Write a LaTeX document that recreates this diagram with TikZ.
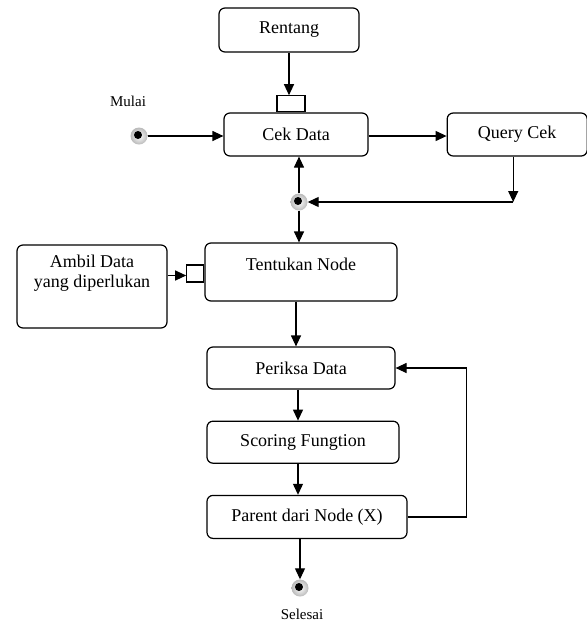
\documentclass[tikz,border=0pt]{standalone}
\usepackage{fontspec}
\setmainfont{Liberation Serif}
\usetikzlibrary{positioning, arrows.meta, calc}

\tikzset{
  act/.style={draw, line width=1.2pt, rounded corners=6pt, minimum height=43pt,
    font=\fontsize{18}{20}\selectfont, align=center},
  portbox/.style={draw, line width=1.2pt, fill=white, inner sep=0pt},
  dot/.style={circle, inner sep=0pt, minimum size=17pt, shading=radial,
    inner color=white, outer color=gray!55,
    path picture={\fill[black] ([xshift=-1pt,yshift=1pt]path picture bounding box.center) circle (4pt);}},
  tag/.style={font=\fontsize{15}{17}\selectfont},
  flow/.style={-{Triangle[length=11pt,width=10pt]}, line width=1.2pt}
}

\begin{document}
\begin{tikzpicture}[x=1pt, y=-1pt]
        \useasboundingbox (0,0) rectangle (587,625);
        % aktivitas
        \node[act, minimum width=140pt, minimum height=44pt] (rentang) at (289,30) {Rentang};
        \node[act, minimum width=144pt] (cek) at (296,134.5) {Cek Data};
        \node[act, minimum width=140pt] (query) [right=78pt of cek] {Query Cek};
        \node[act, minimum width=192pt, minimum height=58pt, text depth=16pt] (tentukan) at (301,272) {Tentukan Node};
        \node[act, minimum width=150pt, minimum height=83pt, text depth=30pt] (ambil) at (92,286.5) {Ambil Data\\yang diperlukan};
        \node[act, minimum width=188pt, minimum height=42pt] (periksa) at (301,368) {Periksa Data};
        \node[act, minimum width=192pt, minimum height=42pt] (scoring) [below=31pt of periksa, xshift=2pt] {Scoring Fungtion};
        \node[act, minimum width=200pt] (parent) [below=31pt of scoring, xshift=4pt] {Parent dari Node (X)};
        % pin masukan
        \node[portbox, minimum width=28pt, minimum height=16pt, anchor=south] (cekpin) at ([xshift=-5pt]cek.north) {};
        \node[portbox, minimum width=17pt, minimum height=17pt, anchor=east] (tentpin) at ([yshift=-1.5pt]tentukan.west) {};
        % titik awal, cabang, akhir
        \node[dot, label={[tag, xshift=-11pt, label distance=17pt]above:Mulai}] (mulai) at (139,136) {};
        \node[dot] (join) at (299,202) {};
        \node[dot, label={[tag, xshift=2pt, label distance=9pt]below:Selesai}] (selesai) at (300,588) {};
        \coordinate (qturn) at ([xshift=-4pt]query.south |- join);
        \coordinate (loopc) at ([xshift=59pt]parent.east);
        % alur
        \draw[flow] (rentang.south -| cekpin.north) ++(-2pt,0) -- ([xshift=-2pt]cekpin.north);
        \draw[flow] (mulai) -- (mulai -| cek.west);
        \draw[flow] (mulai -| cek.east) -- (mulai -| query.west);
        \draw[flow] ([xshift=-4pt]query.south) -- (qturn);
        \draw[flow] (qturn) -- (join);
        \draw[flow] (join) -- (join |- cek.south);
        \draw[flow] (join) -- (join |- tentukan.north);
        \draw[flow] (ambil.east |- tentpin) ++(0,-2pt) -- ([yshift=-2pt]tentpin.west);
        \draw[flow] ([xshift=-5pt]tentukan.south) -- ([xshift=-5pt]tentukan.south |- periksa.north);
        \draw[flow] ([xshift=-3pt]periksa.south) -- ([xshift=-3pt]periksa.south |- scoring.north);
        \draw[flow] ([xshift=-5pt]scoring.south) -- ([xshift=-5pt]scoring.south |- parent.north);
        \draw[flow] (selesai |- parent.south) -- (selesai);
        \draw[flow] (parent.east) -- (loopc) |- (periksa.east);
\end{tikzpicture}
\end{document}
